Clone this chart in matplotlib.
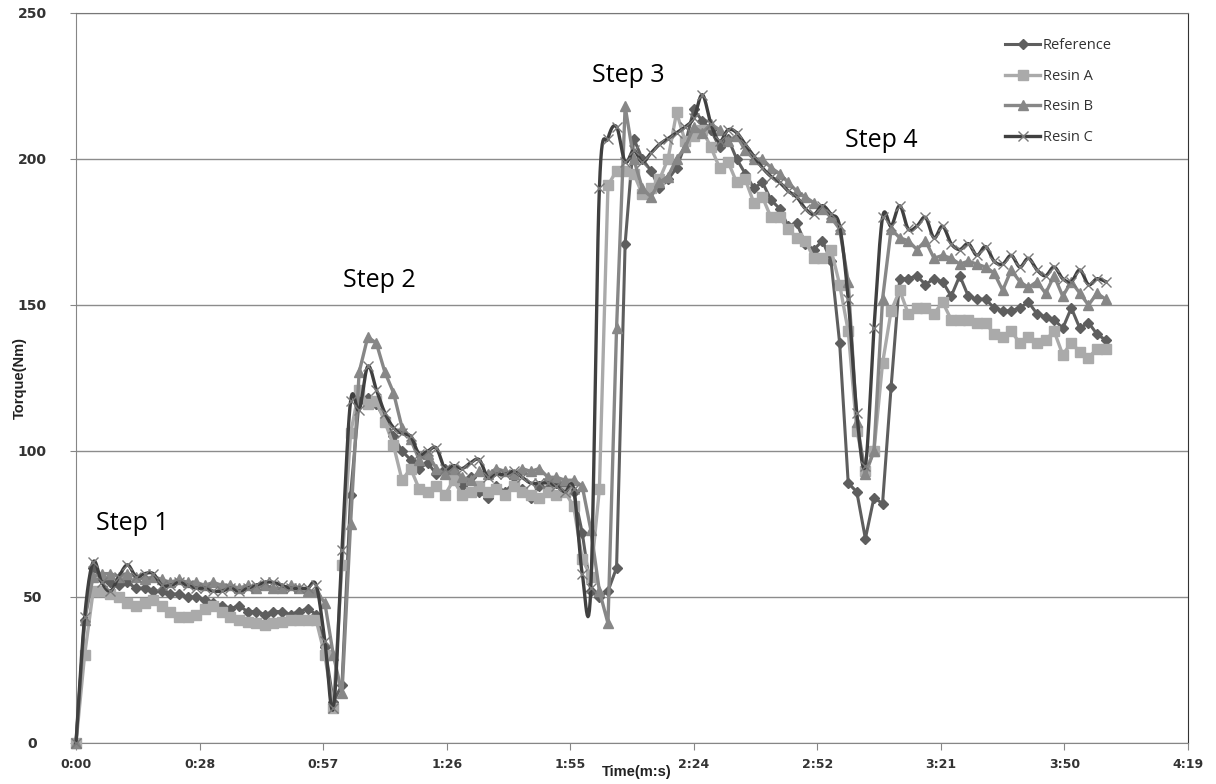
import numpy as np
import matplotlib.pyplot as plt
from matplotlib.lines import Line2D

# sample times (s), one reading every 2 s
seconds = np.arange(0, 241, 2)

reference = [0, 42, 60, 56, 55, 54, 55, 53, 53, 52,
             52, 51, 51, 50, 50, 49, 48, 47, 46, 47,
             45, 45, 44, 45, 45, 44, 45, 46, 44, 33,
             14, 20, 85, 117, 118, 116, 111, 105, 100, 97,
             94, 96, 92, 94, 90, 88, 91, 86, 84, 88,
             86, 89, 87, 84, 88, 87, 89, 88, 86, 72,
             52, 50, 52, 60, 171, 207, 200, 196, 190, 193,
             197, 205, 217, 213, 210, 204, 207, 200, 195, 190,
             192, 186, 183, 177, 178, 171, 169, 172, 165, 137,
             89, 86, 70, 84, 82, 122, 159, 159, 160, 157,
             159, 158, 153, 160, 153, 152, 152, 149, 148, 148,
             149, 151, 147, 146, 145, 142, 149, 142, 144, 140,
             138]

resin_a = [0, 30, 52, 52, 51, 50, 48, 47, 48, 49,
           47, 45, 43, 43, 44, 46, 47, 45, 43, 42,
           41.5, 41, 40.5, 41, 41.5, 42, 42, 42, 42, 30,
           12, 61, 106, 121, 116, 117, 110, 102, 90, 94,
           87, 86, 88, 85, 90, 85, 86, 88, 86, 87,
           85, 88, 86, 85, 84, 86, 85, 86, 81, 63,
           57, 87, 191, 196, 196, 195, 188, 190, 193, 200,
           216, 206, 208, 210, 204, 197, 199, 192, 193, 185,
           187, 180, 180, 176, 173, 172, 166, 166, 169, 157,
           141, 107, 93, 100, 130, 148, 155, 147, 149, 149,
           147, 151, 145, 145, 145, 144, 144, 140, 139, 141,
           137, 139, 137, 138, 141, 133, 137, 134, 132, 135,
           135]

resin_b = [0, 42, 57, 58, 58, 57, 58, 57, 56, 57,
           56, 55, 56, 55, 55, 54, 55, 54, 54, 53,
           54, 53, 54, 53, 53, 54, 53, 52, 52, 48,
           30, 17, 75, 127, 139, 137, 127, 120, 108, 104,
           97, 99, 94, 92, 94, 91, 90, 93, 92, 94,
           93, 92, 94, 93, 94, 91, 91, 90, 90, 88,
           73, 52, 41, 142, 218, 200, 190, 187, 192, 194,
           200, 204, 211, 209, 212, 210, 206, 208, 203, 200,
           200, 197, 195, 192, 189, 187, 185, 183, 180, 176,
           158, 110, 92, 100, 152, 176, 173, 172, 169, 172,
           166, 167, 166, 164, 165, 164, 163, 161, 155, 162,
           158, 156, 158, 154, 160, 153, 158, 154, 150, 154,
           152]

resin_c = [0, 43, 62, 55, 52, 57, 61, 57, 58, 58,
           54, 54, 55, 54, 53, 53, 52, 52, 53, 52,
           53, 54, 55, 55, 54, 53, 53, 53, 54, 35,
           12, 66, 117, 114, 129, 121, 113, 108, 106, 105,
           99, 100, 101, 94, 95, 94, 96, 97, 91, 92,
           92, 93, 91, 89, 89, 89, 88, 86, 87, 58,
           53, 190, 207, 211, 199, 203, 199, 202, 205, 207,
           209, 211, 214, 222, 212, 206, 210, 209, 205, 201,
           197, 194, 192, 189, 187, 183, 181, 184, 181, 177,
           152, 113, 95, 142, 180, 177, 184, 176, 177, 180,
           173, 177, 171, 169, 171, 167, 170, 165, 164, 167,
           163, 166, 162, 160, 163, 159, 158, 162, 157, 159,
           158]

step_labels = ["Step 1", "Step 2", "Step 3", "Step 4"]
step_pos = [(4.7, 73), (62.2, 156), (120.3, 226.5), (179.3, 204)]


def smooth_line(x, y, steps=12):
    # cubic bezier through every point, like a spreadsheet "smoothed line"
    x = np.asarray(x, float)
    y = np.asarray(y, float)
    n = len(x)
    s = np.linspace(0, 1, steps, endpoint=False)
    b0, b1, b2, b3 = (1 - s) ** 3, 3 * s * (1 - s) ** 2, 3 * s ** 2 * (1 - s), s ** 3
    xs, ys = [], []
    for k in range(n - 1):
        k0 = max(k - 1, 0)
        k3 = min(k + 2, n - 1)
        c1x = x[k] + (x[k + 1] - x[k0]) / 6
        c1y = y[k] + (y[k + 1] - y[k0]) / 6
        c2x = x[k + 1] - (x[k3] - x[k]) / 6
        c2y = y[k + 1] - (y[k3] - y[k]) / 6
        xs.append(b0 * x[k] + b1 * c1x + b2 * c2x + b3 * x[k + 1])
        ys.append(b0 * y[k] + b1 * c1y + b2 * c2y + b3 * y[k + 1])
    xs.append([x[-1]])
    ys.append([y[-1]])
    return np.concatenate(xs), np.concatenate(ys)


fig = plt.figure(figsize=(12.16, 7.84), dpi=100)
ax = fig.add_axes([76 / 1216, 41 / 784, 1112 / 1216, 730 / 784])

ref_col = '#5e5e5e'
a_col = '#aaaaaa'
b_col = '#878787'
c_col = '#404040'
cx_col = '#7a7a7a'

ax.plot(seconds, reference, color=ref_col, lw=2.2, marker='D', ms=5,
        mfc=ref_col, mec=ref_col, clip_on=False, zorder=3)
ax.plot(seconds, resin_a, color=a_col, lw=2.4, marker='s', ms=6.5,
        mfc=a_col, mec=a_col, clip_on=False, zorder=4)
ax.plot(seconds, resin_b, color=b_col, lw=2.4, marker='^', ms=7,
        mfc=b_col, mec=b_col, clip_on=False, zorder=5)
sx, sy = smooth_line(seconds, resin_c)
ax.plot(sx, sy, color=c_col, lw=2.4, clip_on=False, zorder=6)
ax.plot(seconds, resin_c, ls='none', marker='x', ms=7, mew=1,
        color=cx_col, clip_on=False, zorder=7)

ax.set_xlim(0, 259.2)
ax.set_ylim(0, 250)

# time axis: major unit 28.8 s, labels truncated to whole seconds
tick_sec = [k * 28.8 for k in range(10)]
tick_lab = []
for k in range(10):
    s = (k * 288) // 10
    tick_lab.append(f"{s // 60}:{s % 60:02d}")
ax.set_xticks(tick_sec)
ax.set_xticklabels(tick_lab, fontsize=9, fontweight='bold', color='#333333')
ax.set_yticks([0, 50, 100, 150, 200, 250])
ax.set_yticklabels(['0', '50', '100', '150', '200', '250'], fontsize=10,
                   fontweight='bold', color='#333333')
for lab in ax.get_yticklabels():
    lab.set_ha('center')
ax.tick_params(axis='x', length=5, color='#868686', pad=6)
ax.tick_params(axis='y', length=4.5, color='#868686', pad=27)

ax.yaxis.grid(True, color='#8c8c8c', lw=1)
ax.set_axisbelow(True)
for side in ['left', 'bottom']:
    ax.spines[side].set_color('#868686')
ax.spines['top'].set_color('#777777')
ax.spines['right'].set_color('#333333')

fig.text(637 / 1216, 1 - 772 / 784, 'Time(m:s)', ha='center', va='center',
         fontsize=10.5, fontweight='bold', family='Liberation Sans', color='#222222')
fig.text(20 / 1216, 1 - 378 / 784, 'Torque(Nm)', ha='center', va='center',
         rotation=90, fontsize=10.5, fontweight='bold', family='Liberation Sans',
         color='#222222')

for lab, (tx, ty) in zip(step_labels, step_pos):
    ax.text(tx, ty, lab, fontsize=18, family='Open Sans', ha='left', va='baseline')

handles = [
    Line2D([], [], color=ref_col, lw=2.2, marker='D', ms=5),
    Line2D([], [], color=a_col, lw=2.4, marker='s', ms=6.5),
    Line2D([], [], color=b_col, lw=2.4, marker='^', ms=7),
    Line2D([], [], color=c_col, lw=2.4, marker='x', ms=7, mew=1, mec=cx_col),
]
leg = ax.legend(handles, ['Reference', 'Resin A', 'Resin B', 'Resin C'],
                loc='upper left', bbox_to_anchor=(1005 / 1216, 1 - 38 / 784),
                bbox_transform=fig.transFigure, frameon=False,
                handlelength=2.4, handletextpad=0.2, labelspacing=1.08,
                borderpad=0, borderaxespad=0, prop={'family': 'Open Sans', 'size': 10.5})
for t in leg.get_texts():
    t.set_color('#333333')

fig.savefig('out.png', dpi=100)
